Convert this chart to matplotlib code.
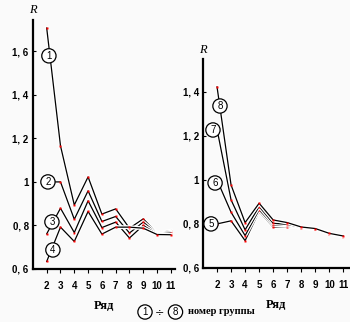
import matplotlib
matplotlib.use('Agg')
import matplotlib.pyplot as plt
import matplotlib.patheffects as pe
from matplotlib.ticker import FuncFormatter

rows = [2, 3, 4, 5, 6, 7, 8, 9, 10, 11]

# левая панель: группы 1-4
g1 = [1.708, 1.166, 0.894, 1.023, 0.852, 0.876, 0.787, 0.830, 0.764, 0.776]
g2 = [1.000, 1.000, 0.828, 0.959, 0.818, 0.841, 0.765, 0.815, 0.762, 0.771]
g3 = [0.761, 0.879, 0.767, 0.913, 0.790, 0.815, 0.742, 0.800, 0.760, 0.765]
g4 = [0.634, 0.792, 0.726, 0.864, 0.760, 0.792, 0.792, 0.787, 0.758, 0.757]

# правая панель: группы 5-8
g5 = [0.800, 0.814, 0.724, 0.856, 0.786, 0.788, 0.782, 0.777, 0.756, 0.742]
g6 = [1.000, 0.853, 0.747, 0.864, 0.795, 0.793, 0.783, 0.777, 0.756, 0.743]
g7 = [1.230, 0.909, 0.773, 0.879, 0.803, 0.798, 0.784, 0.778, 0.757, 0.744]
g8 = [1.423, 0.977, 0.806, 0.894, 0.818, 0.806, 0.786, 0.779, 0.757, 0.745]

left_groups = [g1, g2, g3, g4]
right_groups = [g5, g6, g7, g8]
left_lab = [('1', 2.16, 1.58), ('2', 2.09, 1.0), ('3', 2.38, 0.816), ('4', 2.45, 0.687)]
right_lab = [('5', 1.57, 0.80), ('6', 1.86, 0.986), ('7', 1.71, 1.227), ('8', 2.21, 1.336)]

bg = '#fafafa'
serif = 'Liberation Serif'
fig = plt.figure(figsize=(3.5, 3.22), dpi=100, facecolor=bg)

def fmt(v, pos):
    s = ('%.1f' % v).replace('.', ', ')
    if s == '1, 0':
        s = '1'
    return s

def panel(rect, groups, labels, ylim, yticks, xlim):
    ax = fig.add_axes(rect, facecolor=bg)
    for g in groups:
        ax.plot(rows, g, color='black', lw=0.9,
                path_effects=[pe.withStroke(linewidth=2.8, foreground='white')])
        ax.plot(rows, g, ls='none', marker='s', ms=1.8, color='red', mec='none')
    for t, x, y in labels:
        ax.text(x, y, t, fontsize=7, ha='center', va='center', family='Liberation Sans',
                bbox=dict(boxstyle='circle,pad=0.22', fc='white', ec='black', lw=0.9))
    ax.set_xlim(*xlim)
    ax.set_ylim(*ylim)
    ax.set_xticks(rows)
    ax.set_yticks(yticks)
    ax.yaxis.set_major_formatter(FuncFormatter(fmt))
    for s in ['top', 'right']:
        ax.spines[s].set_visible(False)
    ax.spines['left'].set_linewidth(1.6)
    ax.spines['bottom'].set_linewidth(1.6)
    ax.tick_params(axis='y', direction='in', length=2.5, labelsize=7, pad=3)
    ax.tick_params(axis='x', direction='out', length=3, labelsize=7, pad=6)
    for lab in ax.get_xticklabels() + ax.get_yticklabels():
        lab.set_fontweight('bold')
        lab.set_family('Liberation Sans')
    ax.text(0, 1.015, 'R', transform=ax.transAxes, ha='center', va='bottom',
            fontsize=9, style='italic', family=serif)
    ax.set_xlabel('Ряд', fontsize=9, family=serif, fontweight='bold', labelpad=6)
    return ax

panel([0.094, 0.165, 0.406, 0.773], left_groups, left_lab, (0.6, 1.745),
      [0.6, 0.8, 1.0, 1.2, 1.4, 1.6], (1, 11.3))
panel([0.58, 0.168, 0.417, 0.649], right_groups, right_lab, (0.6, 1.55),
      [0.6, 0.8, 1.0, 1.2, 1.4], (1, 11.4))

# подпись внизу
circ = dict(boxstyle='circle,pad=0.22', fc='white', ec='black', lw=0.9)
fig.text(145 / 350, 1 - 312 / 322, '1', fontsize=7, ha='center', va='center',
         family='Liberation Sans', bbox=circ)
fig.text(160 / 350, 1 - 312 / 322, '÷', fontsize=8, ha='center', va='center')
fig.text(175.5 / 350, 1 - 312 / 322, '8', fontsize=7, ha='center', va='center',
         family='Liberation Sans', bbox=circ)
fig.text(188 / 350, 1 - 312 / 322, 'номер группы', fontsize=7.5, ha='left', va='center',
         family=serif, fontweight='bold')

fig.savefig('out.png', dpi=100, facecolor=bg)
